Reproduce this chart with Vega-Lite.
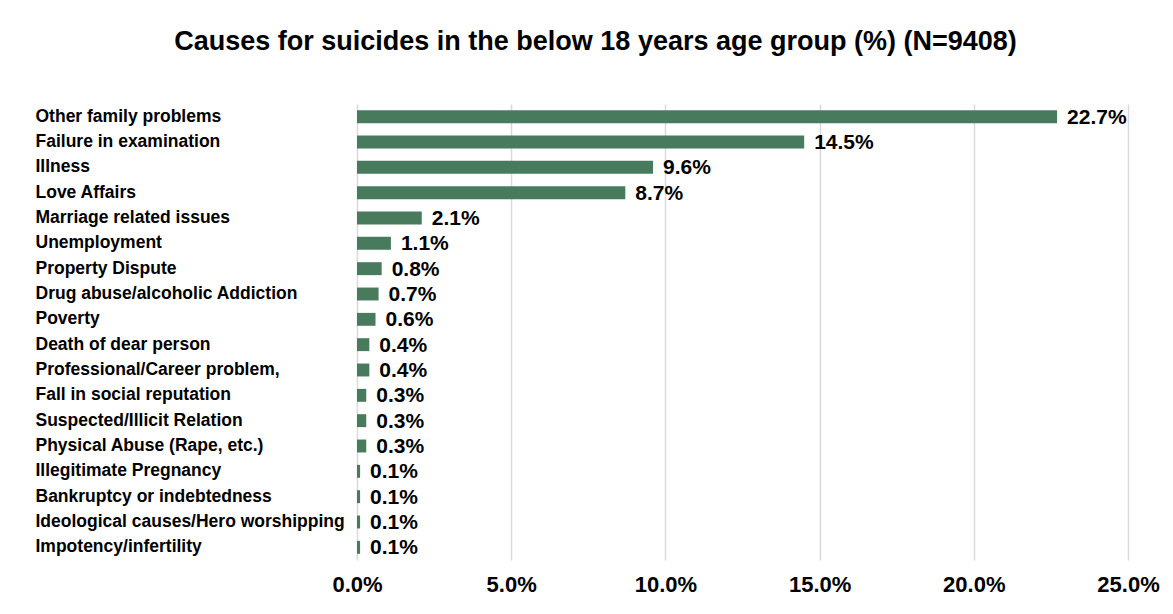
{
  "$schema": "https://vega.github.io/schema/vega-lite/v6.json",
  "width": 771,
  "height": 456,
  "padding": {"left": 35, "top": 28, "right": 5, "bottom": 5},
  "title": {
    "text": "Causes for suicides in the below 18 years age group (%) (N=9408)",
    "font": "Liberation Sans",
    "fontSize": 27,
    "fontWeight": "bold",
    "color": "#000000",
    "anchor": "middle",
    "frame": "group",
    "offset": 48,
    "dx": -147
  },
  "data": {
    "values": [
      {"cause": "Other family problems", "pct": 0.227},
      {"cause": "Failure in examination", "pct": 0.145},
      {"cause": "Illness", "pct": 0.096},
      {"cause": "Love Affairs", "pct": 0.087},
      {"cause": "Marriage related issues", "pct": 0.021},
      {"cause": "Unemployment", "pct": 0.011},
      {"cause": "Property Dispute", "pct": 0.008},
      {"cause": "Drug abuse/alcoholic Addiction", "pct": 0.007},
      {"cause": "Poverty", "pct": 0.006},
      {"cause": "Death of dear person", "pct": 0.004},
      {"cause": "Professional/Career problem,", "pct": 0.004},
      {"cause": "Fall in social reputation", "pct": 0.003},
      {"cause": "Suspected/Illicit Relation", "pct": 0.003},
      {"cause": "Physical Abuse (Rape, etc.)", "pct": 0.003},
      {"cause": "Illegitimate Pregnancy", "pct": 0.001},
      {"cause": "Bankruptcy or indebtedness", "pct": 0.001},
      {"cause": "Ideological causes/Hero worshipping", "pct": 0.001},
      {"cause": "Impotency/infertility", "pct": 0.001}
    ]
  },
  "encoding": {
    "y": {
      "field": "cause",
      "type": "nominal",
      "sort": null,
      "scale": {"paddingInner": 0.49, "paddingOuter": 0.245},
      "axis": {
        "title": null,
        "domain": false,
        "ticks": false,
        "tickSize": 0,
        "labelAlign": "left",
        "labelPadding": 322,
        "labelFont": "Liberation Sans",
        "labelFontSize": 17.5,
        "labelFontWeight": "bold",
        "labelColor": "#000000",
        "labelLimit": 400
      }
    },
    "x": {
      "field": "pct",
      "type": "quantitative",
      "scale": {"domain": [0, 0.25], "nice": false},
      "axis": {
        "title": null,
        "format": ".1%",
        "values": [0, 0.05, 0.1, 0.15, 0.2, 0.25],
        "domain": false,
        "ticks": false,
        "grid": true,
        "gridColor": "#d9d9d9",
        "gridWidth": 1.5,
        "labelPadding": 14,
        "labelFont": "Liberation Sans",
        "labelFontSize": 22,
        "labelFontWeight": "bold",
        "labelColor": "#000000",
        "labelFlush": false
      }
    }
  },
  "layer": [
    {"mark": {"type": "bar", "color": "#487B5D"}},
    {
      "mark": {
        "type": "text",
        "align": "left",
        "baseline": "middle",
        "dx": 10,
        "dy": 1,
        "font": "Liberation Sans",
        "fontSize": 21,
        "fontWeight": "bold",
        "color": "#000000"
      },
      "encoding": {"text": {"field": "pct", "type": "quantitative", "format": ".1%"}}
    }
  ],
  "config": {"view": {"stroke": null}}
}
